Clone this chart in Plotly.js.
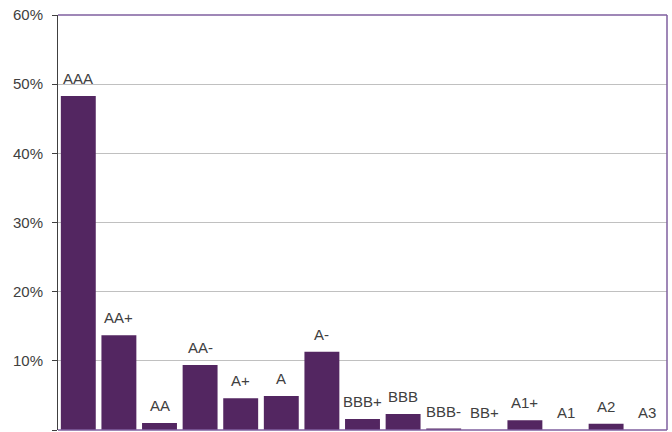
<!DOCTYPE html>
<html><head><meta charset="utf-8">
<script src="https://cdn.plot.ly/plotly-3.0.1.min.js"></script>
<style>html,body{margin:0;padding:0;background:#fff}</style>
</head><body><div id="chart" style="width:672px;height:432px"></div>
<script>
const ratings = ["AAA","AA+","AA","AA-","A+","A","A-","BBB+","BBB","BBB-","BB+","A1+","A1","A2","A3"];
const shares = [48.3, 13.7, 1.0, 9.4, 4.6, 4.9, 11.3, 1.6, 2.3, 0.2, 0, 1.4, 0, 0.9, 0];
const yTicks = [0,10,20,30,40,50,60];

const trace = {
  type: "bar", x: ratings, y: shares,
  marker: {color: "#532661"},
  hoverinfo: "skip"
};
const annotations = ratings.map((r, i) => ({
  x: r, y: shares[i], xref: "x", yref: "y", text: r, showarrow: false,
  yanchor: "bottom", yshift: 7,
  font: {family: "Liberation Sans, Arial, sans-serif", size: 15, color: "#404040"}
}));
const layout = {
  width: 672, height: 432,
  margin: {l: 58, r: 5, t: 15, b: 2},
  paper_bgcolor: "#fff", plot_bgcolor: "#fff",
  bargap: 0.14,
  showlegend: false,
  xaxis: {showticklabels: false, showgrid: false, zeroline: false, ticks: "", showline: false, fixedrange: true},
  yaxis: {range: [0, 60], tickvals: yTicks, ticktext: yTicks.map(v => v + "%"),
    showgrid: true, gridcolor: "#c0c0c0", gridwidth: 1, zeroline: false,
    showline: true, linecolor: "#404040", linewidth: 1,
    ticks: "outside", ticklen: 5, tickcolor: "#404040", ticklabelstandoff: 6,
    tickfont: {family: "Liberation Sans, Arial, sans-serif", size: 15, color: "#404040"}},
  shapes: [
    {type: "line", xref: "paper", yref: "paper", x0: 0, x1: 1, y0: 1, y1: 1, line: {color: "#7f5f9f", width: 1.5}},
    {type: "line", xref: "paper", yref: "paper", x0: 1, x1: 1, y0: 0, y1: 1, line: {color: "#7f5f9f", width: 1.5}},
    {type: "line", xref: "paper", yref: "paper", x0: 0, x1: 1, y0: 0, y1: 0, line: {color: "#7f5f9f", width: 1.5}}
  ],
  annotations: annotations
};
Plotly.newPlot("chart", [trace], layout, {displayModeBar: false, staticPlot: true});
</script></body></html>
